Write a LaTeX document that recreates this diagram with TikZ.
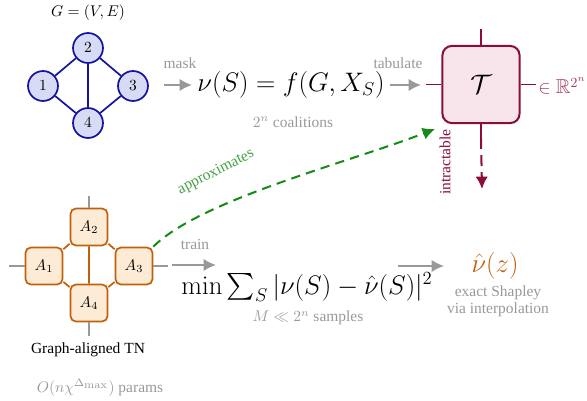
\documentclass[tikz,border=0pt]{standalone}
\usepackage[no-math]{fontspec}
\setmainfont{Liberation Serif}
\usepackage{amsmath}
\usepackage{amssymb}
\usepackage{xcolor}
\usetikzlibrary{arrows.meta,positioning}

\definecolor{gnavy}{HTML}{1414A0}
\definecolor{gnfill}{HTML}{D8DBF6}
\definecolor{tnbrown}{HTML}{C0600C}
\definecolor{tnfill}{HTML}{FDEBD5}
\definecolor{tred}{HTML}{8C0C3C}
\definecolor{tfill}{HTML}{F8E4EB}
\definecolor{apgreen}{HTML}{168A16}
\definecolor{notegray}{HTML}{999999}

\tikzset{
  gvert/.style={circle,draw=gnavy,fill=gnfill,line width=1.1pt,minimum size=0.68cm,inner sep=0pt},
  gedge/.style={gnavy,line width=1.1pt},
  tncore/.style={draw=tnbrown,fill=tnfill,line width=1.1pt,rounded corners=3.5pt,minimum size=0.84cm,inner sep=0pt},
  tnbond/.style={tnbrown,line width=1.1pt},
  tnleg/.style={notegray,line width=1pt},
  tbox/.style={draw=tred,fill=tfill,line width=1.3pt,rounded corners=6pt,minimum size=1.75cm,inner sep=0pt},
  tleg/.style={tred,line width=1pt},
  flow/.style={notegray,line width=1.2pt,-{Latex[length=8pt,width=8pt]}},
  note/.style={text=notegray},
}

\begin{document}
\begin{tikzpicture}[x=0.0227cm,y=-0.0227cm]
  \useasboundingbox (0,0) rectangle (587,400);
  % graph G
  \node (gname) at (88,13) {$G=(V,E)$};
  \node[gvert] (v2) at (88,48) {$2$};
  \node[gvert] (v1) at (43,86) {$1$};
  \node[gvert] (v3) at (133,86) {$3$};
  \node[gvert] (v4) at (88,123) {$4$};
  \draw[gedge] (v1) -- (v2) (v1) -- (v4) (v2) -- (v4) (v2) -- (v3) (v3) -- (v4);
  % value function
  \node[anchor=west] (val) at (192,85) {\LARGE $\nu(S)=f(G,X_S)$};
  \coordinate (maskL) at (164,85);
  \draw[flow] (maskL) -- (val.west);
  \node[note] (masklbl) at (180,63) {mask};
  \node[note] (coal) at (293,122) {$2^n$ coalitions};
  % full tensor
  \node[tbox] (T) at (481,84.5) {\LARGE $\mathcal{T}$};
  \coordinate (tabR) at (421,85);
  \draw[flow] (val.east) -- (tabR);
  \node[note] (tablbl) at (398,63) {tabulate};
  \draw[tleg] (T.west) -- ++(-15,0);
  \draw[tleg] (T.north) -- ++(0,-16);
  \draw[tleg] (T.east) -- ++(15,0);
  \draw[tleg] (T.south) -- ++(0,14) coordinate (tdown);
  \node[anchor=west,text=tred!80,inner sep=0pt] (space) at (538,86) {\fontsize{13}{15}\selectfont $\in\mathbb{R}^{2^n}$};
  \coordinate (tend) at (482,189);
  \draw[tred,line width=1.3pt,dash pattern=on 7pt off 4pt,-{Latex[length=8pt,width=8pt]}] (tdown) -- (tend);
  \node[text=tred,rotate=90] (intr) at (445,162) {intractable};
  % graph-aligned TN
  \node[tncore] (A2) at (89,227) {$A_2$};
  \node[tncore] (A1) at (44,266) {$A_1$};
  \node[tncore] (A3) at (134,266) {$A_3$};
  \node[tncore] (A4) at (89,303) {$A_4$};
  \draw[tnbond] (A1) -- (A2) (A1) -- (A4) (A2) -- (A4) (A2) -- (A3) (A3) -- (A4);
  \draw[tnleg] (A2.north) -- ++(0,-12);
  \draw[tnleg] (A1.west) -- ++(-16,0);
  \draw[tnleg] (A3.east) -- ++(15,0);
  \draw[tnleg] (A4.south) -- ++(0,14);
  \node (tnname) at (88,350) {Graph-aligned TN};
  \node[note] (params) at (100,388) {$O(n\chi^{\Delta_{\scriptstyle\max}})$ params};
  % approximation
  \coordinate (aptip) at (435,129);
  \draw[apgreen,line width=1.3pt,dash pattern=on 6pt off 4pt,-{Latex[length=8pt,width=8pt]}] (A3.north east)
    .. controls (200,200) and (350,162) .. (aptip);
  \node[text=apgreen!80!white,rotate=27] (aplbl) at (216,172) {approximates};
  % training
  \coordinate (trainL) at (172,265);
  \coordinate (trainR) at (216,265);
  \draw[flow] (trainL) -- (trainR);
  \node[note] (trainlbl) at (195,244) {train};
  \node (loss) at (307,287) {\LARGE $\min\sum_S|\nu(S)-\hat\nu(S)|^2$};
  \node[note] (samples) at (308,318) {$M\ll 2^n$ samples};
  \coordinate (outL) at (398,266);
  \coordinate (outR) at (444,266);
  \draw[flow] (outL) -- (outR);
  \node[text=tnbrown] (surr) at (495,266) {\LARGE $\hat\nu(z)$};
  \node[note] (shap) at (498,293) {exact Shapley};
  \node[note] (interp) at (498,310) {via interpolation};
\end{tikzpicture}
\end{document}
